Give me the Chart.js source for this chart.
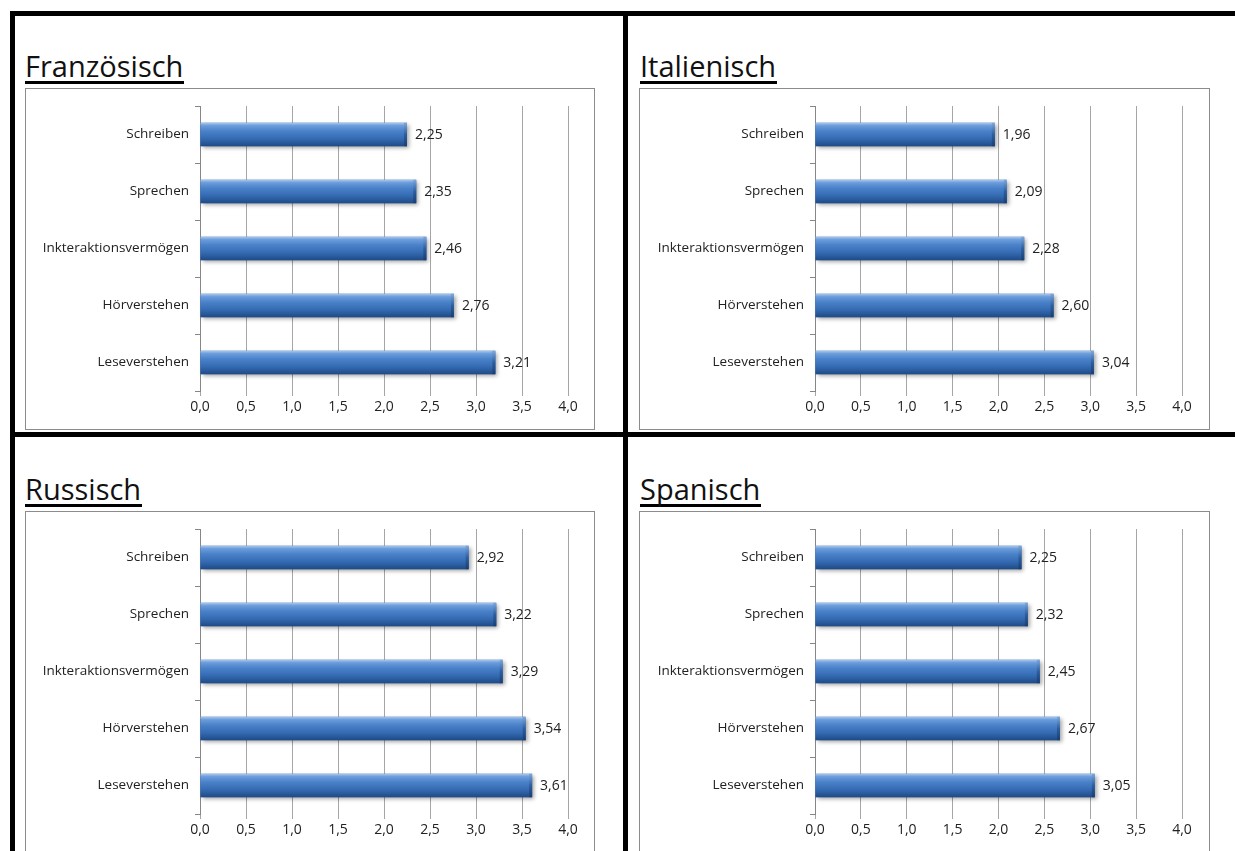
<!DOCTYPE html>
<html>
<head>
<meta charset="utf-8">
<script src="https://cdn.jsdelivr.net/npm/chart.js@4.4.1/dist/chart.umd.min.js"></script>
<style>
  body { margin: 0; width: 1235px; height: 851px; overflow: hidden; position: relative; background: #fff; font-family: "Open Sans", sans-serif; }
  .balken { position: absolute; background: #000; }
  .titel { position: absolute; font-size: 29px; line-height: 30px; color: #111; border-bottom: 3px solid #000; padding: 0 1px 0 0; }
  .kasten { position: absolute; border: 1px solid #8c8c8c; background: #fff; }
  .kasten canvas { display: block; }
</style>
</head>
<body>
<!-- schwarze Tabellenlinien -->
<div class="balken" style="left:10px;top:11px;width:1225px;height:5px"></div>
<div class="balken" style="left:10px;top:11px;width:5px;height:840px"></div>
<div class="balken" style="left:623px;top:11px;width:5px;height:840px"></div>
<div class="balken" style="left:10px;top:432px;width:1225px;height:5px"></div>

<div class="titel" style="left:25px;top:51px">Französisch</div>
<div class="titel" style="left:640px;top:51px">Italienisch</div>
<div class="titel" style="left:25px;top:474px">Russisch</div>
<div class="titel" style="left:640px;top:474px">Spanisch</div>

<div class="kasten" style="left:25px;top:88px"><canvas id="chartFR" width="568" height="340"></canvas></div>
<div class="kasten" style="left:639px;top:88px"><canvas id="chartIT" width="569" height="340"></canvas></div>
<div class="kasten" style="left:25px;top:511px"><canvas id="chartRU" width="568" height="340"></canvas></div>
<div class="kasten" style="left:639px;top:511px"><canvas id="chartES" width="569" height="340"></canvas></div>

<script>
// --- DATEN ---
const kategorien = ['Schreiben', 'Sprechen', 'Inkteraktionsvermögen', 'Hörverstehen', 'Leseverstehen'];
const franzoesisch = [2.25, 2.35, 2.46, 2.76, 3.21];
const italienisch = [1.96, 2.09, 2.28, 2.60, 3.04];
const russisch = [2.92, 3.22, 3.29, 3.54, 3.61];
const spanisch = [2.25, 2.32, 2.45, 2.67, 3.05];
const xTickLabels = ['0,0', '0,5', '1,0', '1,5', '2,0', '2,5', '3,0', '3,5', '4,0'];

const schrift = '"Open Sans", sans-serif';

// Balken mit Verlauf (3D-Optik wie Excel) und Wertebeschriftung
const balkenPlugin = {
    id: 'balkenVerlauf',
    afterDatasetsDraw(chart) {
        const ctx = chart.ctx;
        const meta = chart.getDatasetMeta(0);
        const werte = chart.data.datasets[0].data;
        meta.data.forEach((el, i) => {
            const p = el.getProps(['x', 'y', 'base', 'height'], true);
            const top = p.y - p.height / 2;
            const bottom = p.y + p.height / 2;
            const left = p.base;
            const right = p.x;

            ctx.save();
            // Schatten
            ctx.shadowColor = 'rgba(0,0,0,0.35)';
            ctx.shadowBlur = 4;
            ctx.shadowOffsetX = 2;
            ctx.shadowOffsetY = 2;
            const g = ctx.createLinearGradient(0, top, 0, bottom);
            g.addColorStop(0, '#a9c6ec');
            g.addColorStop(0.12, '#6c9ddc');
            g.addColorStop(0.35, '#4a82c9');
            g.addColorStop(0.7, '#3369b0');
            g.addColorStop(1, '#1f4a86');
            ctx.fillStyle = g;
            ctx.fillRect(left, top, right - left, bottom - top);
            ctx.restore();

            // dunkle Kappe am Ende
            ctx.save();
            const g2 = ctx.createLinearGradient(0, top, 0, bottom);
            g2.addColorStop(0, '#7ea7dc');
            g2.addColorStop(0.5, '#2d5e9f');
            g2.addColorStop(1, '#1a3f73');
            ctx.fillStyle = g2;
            ctx.fillRect(right - 3, top, 3, bottom - top);
            ctx.restore();

            // Wert
            ctx.save();
            ctx.fillStyle = '#222';
            ctx.font = '14px ' + schrift;
            ctx.textBaseline = 'middle';
            ctx.textAlign = 'left';
            ctx.fillText(werte[i].toFixed(2).replace('.', ','), right + 8, p.y + 1);
            ctx.restore();
        });
    }
};

function zeichneDiagramm(id, werte, yBreite, rechts) {
    const ctx = document.getElementById(id).getContext('2d');
    return new Chart(ctx, {
        type: 'bar',
        data: {
            labels: kategorien,
            datasets: [{
                data: werte,
                backgroundColor: '#3f77c0',
                barPercentage: 0.41,
                categoryPercentage: 1.0
            }]
        },
        options: {
            responsive: false,
            animation: false,
            indexAxis: 'y',
            layout: { padding: { top: 17, right: rechts, left: 0, bottom: 0 } },
            plugins: {
                legend: { display: false },
                tooltip: { enabled: false }
            },
            scales: {
                x: {
                    min: 0,
                    max: 4,
                    ticks: {
                        stepSize: 0.5,
                        color: '#222',
                        font: { family: schrift, size: 14 },
                        padding: 3,
                        callback: (v, i) => xTickLabels[i]
                    },
                    grid: { color: '#a6a6a6', tickLength: 5 },
                    border: { display: false },
                    afterFit: s => { s.height = 38; }
                },
                y: {
                    ticks: {
                        color: '#222',
                        font: { family: schrift, size: 13.5 },
                        padding: 6
                    },
                    grid: { drawOnChartArea: false, tickLength: 5, color: '#868686' },
                    border: { color: '#868686' },
                    afterFit: s => { s.width = yBreite; }
                }
            }
        },
        plugins: [balkenPlugin]
    });
}

zeichneDiagramm('chartFR', franzoesisch, 174, 26);
zeichneDiagramm('chartIT', italienisch, 175, 27);
zeichneDiagramm('chartRU', russisch, 174, 26);
zeichneDiagramm('chartES', spanisch, 175, 27);
</script>
</body>
</html>
